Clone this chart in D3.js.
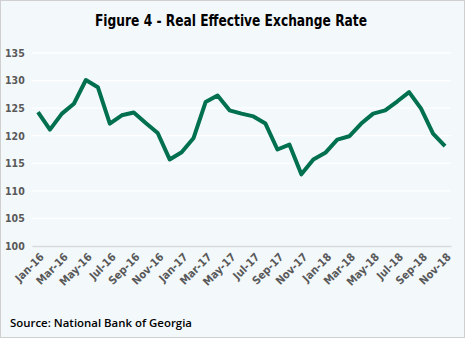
<!DOCTYPE html>
<html>
<head>
<meta charset="utf-8">
<script src="https://cdn.jsdelivr.net/npm/d3@7"></script>
<style>
  body { margin: 0; background: #fff; }
  .chart { display: block; }
  .title { font-family: "DejaVu Sans Condensed", sans-serif; font-weight: bold; font-size: 16px; fill: #000; }
  .axis text { font-family: "DejaVu Sans Condensed", sans-serif; font-weight: bold; font-size: 10.5px; fill: #595959; }
  .source { font-family: "Open Sans", sans-serif; font-weight: 600; font-size: 11px; fill: #000; }
</style>
</head>
<body>
<svg class="chart"></svg>
<script>
// monthly REER index, Jan-16 .. Nov-18
var months = ["Jan-16","Feb-16","Mar-16","Apr-16","May-16","Jun-16","Jul-16","Aug-16","Sep-16","Oct-16","Nov-16","Dec-16",
              "Jan-17","Feb-17","Mar-17","Apr-17","May-17","Jun-17","Jul-17","Aug-17","Sep-17","Oct-17","Nov-17","Dec-17",
              "Jan-18","Feb-18","Mar-18","Apr-18","May-18","Jun-18","Jul-18","Aug-18","Sep-18","Oct-18","Nov-18"];
var reer = [124.3, 121.1, 124.0, 125.8, 130.1, 128.8, 122.2, 123.7, 124.2, 122.3, 120.5, 115.7,
            117.0, 119.6, 126.1, 127.3, 124.6, 124.0, 123.5, 122.2, 117.5, 118.4, 113.0, 115.7,
            116.9, 119.3, 119.9, 122.2, 124.0, 124.6, 126.2, 127.9, 124.9, 120.4, 118.1];
var yTicks = [100, 105, 110, 115, 120, 125, 130, 135];

var W = 465, H = 338;
var margin = {top: 53, right: 14, bottom: 92, left: 32};
var width = W - margin.left - margin.right,
    height = H - margin.top - margin.bottom;

var svg = d3.select(".chart").attr("width", W).attr("height", H);

// background + frame
svg.append("rect")
    .attr("x", 0.5).attr("y", 0.5)
    .attr("width", W - 1).attr("height", H - 1)
    .attr("fill", "#f3f8fb")
    .attr("stroke", "#d0d0d0");

svg.append("text")
    .attr("class", "title")
    .attr("x", 95).attr("y", 26)
    .attr("textLength", 272)
    .attr("lengthAdjust", "spacingAndGlyphs")
    .text("Figure 4 - Real Effective Exchange Rate");

var g = svg.append("g").attr("transform", "translate(" + margin.left + "," + margin.top + ")");

var x = d3.scaleBand().domain(months).range([0, width]);
var y = d3.scaleLinear().domain([100, 135]).range([height, 0]);

// gridlines
g.selectAll(".grid").data(yTicks.slice(1))
  .enter().append("line")
    .attr("class", "grid")
    .attr("x1", 0).attr("x2", width)
    .attr("y1", function(d) { return y(d); })
    .attr("y2", function(d) { return y(d); })
    .attr("stroke", "#ffffff")
    .attr("stroke-width", 1.3);

// y axis
var yAxis = d3.axisLeft(y).tickValues(yTicks).tickSize(0).tickPadding(10);
g.append("g")
    .attr("class", "y axis")
    .call(yAxis)
    .call(function(s) { s.select(".domain").remove(); })
    .selectAll("text").attr("text-anchor", "start").attr("x", -27);

// x axis
var xAxis = d3.axisBottom(x)
    .tickValues(months.filter(function(d, i) { return i % 2 === 0; }))
    .tickSize(0);
var gx = g.append("g")
    .attr("class", "x axis")
    .attr("transform", "translate(0," + height + ")")
    .call(xAxis);
gx.select(".domain").attr("stroke", "#d9d9d9").attr("stroke-width", 1.3);
gx.selectAll("text")
    .style("font-size", "11px")
    .attr("text-anchor", "end")
    .attr("dy", "0.35em")
    .attr("transform", "translate(4,9) rotate(-45)")
    .attr("y", 0).attr("x", 0);

// line
var line = d3.line()
    .x(function(d, i) { return x(months[i]) + x.bandwidth() / 2; })
    .y(function(d) { return y(d); });

g.append("path")
    .datum(reer)
    .attr("fill", "none")
    .attr("stroke", "#00704f")
    .attr("stroke-width", 4)
    .attr("stroke-linejoin", "round")
    .attr("d", line);

svg.append("text")
    .attr("class", "source")
    .attr("x", 10).attr("y", 327)
    .attr("textLength", 182)
    .attr("lengthAdjust", "spacingAndGlyphs")
    .text("Source: National Bank of Georgia");
</script>
</body>
</html>
